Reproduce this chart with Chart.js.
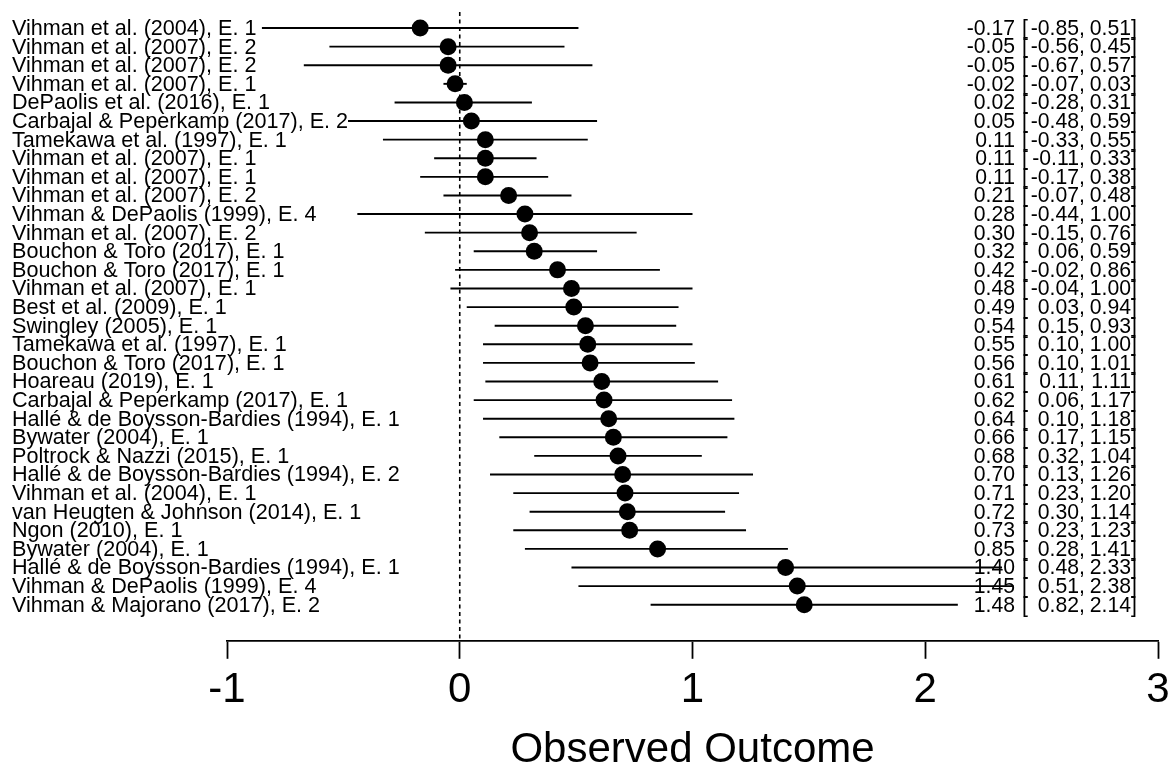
<!DOCTYPE html>
<html><head><meta charset="utf-8">
<script src="https://cdn.jsdelivr.net/npm/chart.js@4/dist/chart.umd.min.js"></script>
<style>html,body{margin:0;padding:0;background:#fff}canvas{display:block}</style>
</head><body>
<canvas id="c" width="1171" height="764"></canvas>
<script>
const studies = [
  "Vihman et al. (2004), E. 1",
  "Vihman et al. (2007), E. 2",
  "Vihman et al. (2007), E. 2",
  "Vihman et al. (2007), E. 1",
  "DePaolis et al. (2016), E. 1",
  "Carbajal & Peperkamp (2017), E. 2",
  "Tamekawa et al. (1997), E. 1",
  "Vihman et al. (2007), E. 1",
  "Vihman et al. (2007), E. 1",
  "Vihman et al. (2007), E. 2",
  "Vihman & DePaolis (1999), E. 4",
  "Vihman et al. (2007), E. 2",
  "Bouchon & Toro (2017), E. 1",
  "Bouchon & Toro (2017), E. 1",
  "Vihman et al. (2007), E. 1",
  "Best et al. (2009), E. 1",
  "Swingley (2005), E. 1",
  "Tamekawa et al. (1997), E. 1",
  "Bouchon & Toro (2017), E. 1",
  "Hoareau (2019), E. 1",
  "Carbajal & Peperkamp (2017), E. 1",
  "Hallé & de Boysson-Bardies (1994), E. 1",
  "Bywater (2004), E. 1",
  "Poltrock & Nazzi (2015), E. 1",
  "Hallé & de Boysson-Bardies (1994), E. 2",
  "Vihman et al. (2004), E. 1",
  "van Heugten & Johnson (2014), E. 1",
  "Ngon (2010), E. 1",
  "Bywater (2004), E. 1",
  "Hallé & de Boysson-Bardies (1994), E. 1",
  "Vihman & DePaolis (1999), E. 4",
  "Vihman & Majorano (2017), E. 2"
];
const estimates = [-0.17,-0.05,-0.05,-0.02,0.02,0.05,0.11,0.11,0.11,0.21,0.28,0.30,0.32,0.42,0.48,0.49,0.54,0.55,0.56,0.61,0.62,0.64,0.66,0.68,0.70,0.71,0.72,0.73,0.85,1.40,1.45,1.48];
const lowers = [-0.85,-0.56,-0.67,-0.07,-0.28,-0.48,-0.33,-0.11,-0.17,-0.07,-0.44,-0.15,0.06,-0.02,-0.04,0.03,0.15,0.10,0.10,0.11,0.06,0.10,0.17,0.32,0.13,0.23,0.30,0.23,0.28,0.48,0.51,0.82];
const uppers = [0.51,0.45,0.57,0.03,0.31,0.59,0.55,0.33,0.38,0.48,1.00,0.76,0.59,0.86,1.00,0.94,0.93,1.00,1.01,1.11,1.17,1.18,1.15,1.04,1.26,1.20,1.14,1.23,1.41,2.33,2.38,2.14];
const xTicks = [-1, 0, 1, 2, 3];
const xTitle = "Observed Outcome";

const FONT = "'Liberation Sans', Arial, Helvetica, sans-serif";

const forestPlugin = {
  id: 'forest',
  beforeDatasetsDraw(chart) {
    const {ctx, chartArea, scales: {x, y}} = chart;
    ctx.save();
    ctx.strokeStyle = '#000';
    ctx.lineWidth = 1.6;
    ctx.setLineDash([4, 3.5]);
    const x0 = x.getPixelForValue(0);
    ctx.beginPath();
    ctx.moveTo(x0, chartArea.top + 2);
    ctx.lineTo(x0, chartArea.bottom);
    ctx.stroke();
    ctx.setLineDash([]);
    ctx.lineWidth = 1.9;
    for (let i = 0; i < estimates.length; i++) {
      const py = y.getPixelForValue(i);
      ctx.beginPath();
      ctx.moveTo(x.getPixelForValue(lowers[i]), py);
      ctx.lineTo(x.getPixelForValue(uppers[i]), py);
      ctx.stroke();
    }
    ctx.restore();
  },
  afterDatasetsDraw(chart) {
    const {ctx, scales: {y}} = chart;
    ctx.save();
    ctx.fillStyle = '#000';
    ctx.textBaseline = 'middle';
    for (let i = 0; i < studies.length; i++) {
      const py = y.getPixelForValue(i) + 1;
      ctx.font = "21.6px " + FONT;
      ctx.textAlign = 'left';
      ctx.fillText(studies[i], 12, py);
      ctx.font = "21.2px " + FONT;
      ctx.textAlign = 'right';
      ctx.fillText(estimates[i].toFixed(2), 1015, py);
      ctx.textAlign = 'left';
      ctx.fillText('[', 1022, py);
      ctx.textAlign = 'right';
      ctx.fillText(lowers[i].toFixed(2), 1079, py);
      ctx.textAlign = 'left';
      ctx.fillText(',', 1079, py);
      ctx.textAlign = 'right';
      ctx.fillText(uppers[i].toFixed(2), 1131, py);
      ctx.textAlign = 'left';
      ctx.fillText(']', 1131, py);
    }
    ctx.restore();
  }
};

new Chart(document.getElementById('c'), {
  type: 'scatter',
  data: {
    datasets: [{
      data: estimates.map((e, i) => ({x: e, y: i})),
      pointRadius: 8.5,
      pointHoverRadius: 8.5,
      pointBackgroundColor: '#000',
      pointBorderColor: '#000',
      pointBorderWidth: 0
    }]
  },
  options: {
    responsive: false,
    animation: false,
    devicePixelRatio: 1,
    layout: {padding: {left: 227, right: 13, top: 10, bottom: 0}},
    plugins: {legend: {display: false}, tooltip: {enabled: false}},
    scales: {
      x: {
        type: 'linear',
        min: -1, max: 3,
        afterBuildTicks(scale) { scale.ticks = xTicks.map(v => ({value: v})); },
        afterFit(scale) { scale.paddingLeft = 0; scale.paddingRight = 0; },
        grid: {display: true, drawOnChartArea: false, drawTicks: true, tickLength: 18, tickColor: '#000', tickWidth: 1.8},
        border: {display: true, color: '#000', width: 1.8},
        ticks: {color: '#000', padding: 6, font: {family: FONT, size: 42, lineHeight: 1.2}, maxRotation: 0, autoSkip: false,
          callback: v => String(v)},
        title: {display: true, text: xTitle, color: '#000', font: {family: FONT, size: 42, lineHeight: 0.9}, padding: {top: 10, bottom: -5}}
      },
      y: {
        type: 'linear', display: false, reverse: true, min: -0.97, max: 32.94
      }
    }
  },
  plugins: [forestPlugin]
});
</script>
</body></html>
